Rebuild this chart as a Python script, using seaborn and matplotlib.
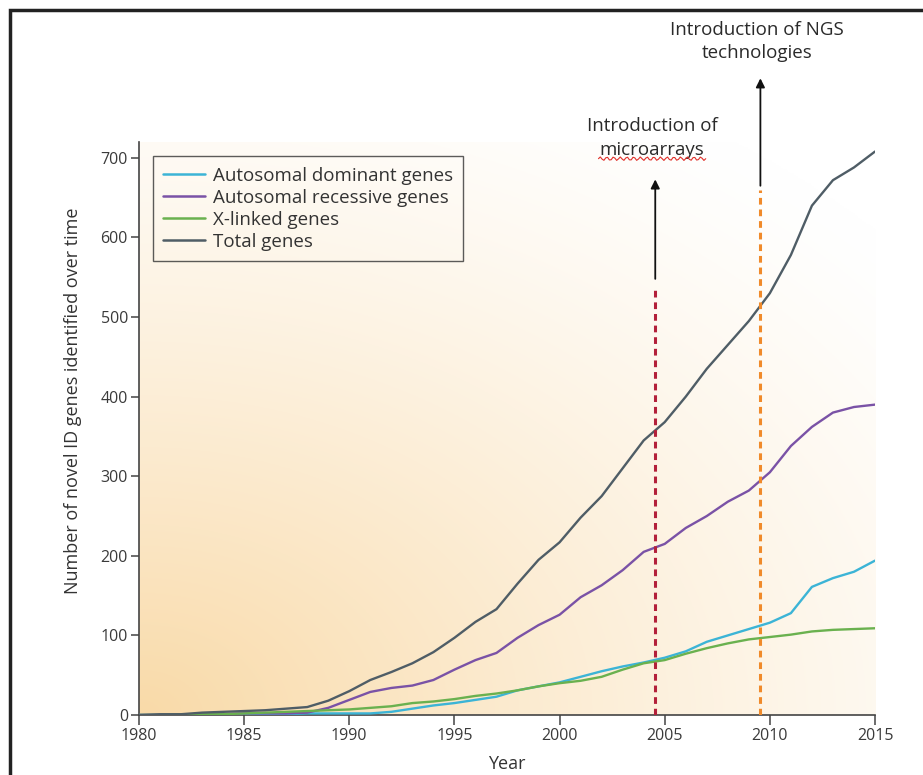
import numpy as np
import pandas as pd
import matplotlib
matplotlib.use("Agg")
import matplotlib.pyplot as plt
import seaborn as sns
from matplotlib.patches import Rectangle

years = list(range(1980, 2016))

autosomal_dominant = [0, 0, 0, 0, 1, 1, 1, 1, 2, 2, 2, 2, 4, 8, 12, 15, 19, 23,
                      31, 36, 41, 48, 55, 61, 66, 72, 80, 92, 100, 108, 116, 128,
                      161, 172, 180, 194]
autosomal_recessive = [0, 0, 0, 1, 1, 2, 2, 2, 3, 9, 19, 29, 34, 37, 44, 57, 69, 78,
                       97, 113, 126, 148, 163, 182, 205, 215, 235, 250, 268, 282,
                       305, 338, 362, 380, 387, 390]
x_linked = [0, 0, 1, 1, 1, 2, 3, 4, 5, 6, 7, 9, 11, 15, 17, 20, 24, 27,
            31, 36, 40, 43, 48, 57, 65, 69, 77, 84, 90, 95, 98, 101, 105, 107,
            108, 109]
total_genes = [0, 1, 1, 3, 4, 5, 6, 8, 10, 18, 30, 44, 54, 65, 79, 97, 117, 133,
               165, 195, 217, 248, 275, 310, 345, 368, 400, 435, 465, 495, 530,
               578, 640, 672, 688, 708]

series_names = ["Autosomal dominant genes", "Autosomal recessive genes",
                "X-linked genes", "Total genes"]
series_colors = ["#3cb4d6", "#7a52a6", "#6ab14f", "#4f5d66"]

x_ticks = [1980, 1985, 1990, 1995, 2000, 2005, 2010, 2015]
y_ticks = [0, 100, 200, 300, 400, 500, 600, 700]

microarray_year = 2004.55
ngs_year = 2009.55

df = pd.concat([
    pd.DataFrame({"Year": years, "Genes": vals, "Series": name})
    for name, vals in zip(series_names,
                          [autosomal_dominant, autosomal_recessive, x_linked, total_genes])
], ignore_index=True)

sns.set_theme(style="white")
plt.rcParams["font.family"] = ["Open Sans", "DejaVu Sans"]

fig = plt.figure(figsize=(9.23, 7.75), dpi=100)
ax = fig.add_axes([0.1506, 0.0774, 0.7974, 0.7394])
ax.set_xlim(1980, 2015)
ax.set_ylim(0, 720)

# background gradient (peach at bottom-left fading to white at top-right)
gx, gy = np.meshgrid(np.linspace(0, 1, 400), np.linspace(0, 1, 400))
d = np.sqrt((gx * 0.95) ** 2 + (gy * 1.05) ** 2)
t = np.clip(d / 1.3, 0, 1)
w = (1 - t) ** 1.3
orange = np.array([249, 218, 168]) / 255.0
white = np.array([1.0, 1.0, 1.0])
img = white[None, None, :] * (1 - w[..., None]) + orange[None, None, :] * w[..., None]
ax.imshow(img, extent=[1980, 2015, 0, 720], origin="lower", aspect="auto", zorder=0)

sns.lineplot(data=df, x="Year", y="Genes", hue="Series", hue_order=series_names,
             palette=series_colors, linewidth=1.7, ax=ax, zorder=3)

# vertical dashed markers
ax.vlines(microarray_year, 0, 534, colors="#b3203a", linestyles=(0, (2.2, 1.6)),
          linewidth=2.2, zorder=4)
ax.vlines(ngs_year, 0, 660, colors="#f08a2a", linestyles=(0, (2.2, 1.6)),
          linewidth=2.2, zorder=4)

ax.annotate("", xy=(microarray_year, 673), xytext=(microarray_year, 548),
            arrowprops=dict(arrowstyle="-|>", color="#111111", lw=1.3,
                            mutation_scale=13, shrinkA=0, shrinkB=0),
            annotation_clip=False)
ax.annotate("", xy=(ngs_year, 800), xytext=(ngs_year, 665),
            arrowprops=dict(arrowstyle="-|>", color="#111111", lw=1.3,
                            mutation_scale=13, shrinkA=0, shrinkB=0),
            annotation_clip=False)

ax.text(2004.4, 725, "Introduction of\nmicroarrays", ha="center", va="center",
        fontsize=13.5, color="#2a2a2a", linespacing=1.4, clip_on=False)
ax.text(2009.4, 846, "Introduction of NGS\ntechnologies", ha="center", va="center",
        fontsize=13.5, color="#2a2a2a", linespacing=1.4, clip_on=False)

# spell-check squiggle under "microarrays"
sq_x = np.linspace(2001.85, 2006.95, 60)
sq_y = 699 + 2.2 * np.sin(np.linspace(0, 2 * np.pi * 16, 60))
ax.plot(sq_x, sq_y, color="#e0302a", lw=0.8, clip_on=False, zorder=5)

ax.set_xticks(x_ticks)
ax.set_yticks(y_ticks)
ax.set_xticklabels([str(v) for v in x_ticks])
ax.set_yticklabels([str(v) for v in y_ticks])
ax.tick_params(axis="both", which="major", direction="out", length=6, width=1.1,
               color="#444444", labelsize=11.5, labelcolor="#3a3a3a", pad=2,
               bottom=True, left=True)
ax.tick_params(axis="x", length=7)

for side in ["top", "right"]:
    ax.spines[side].set_visible(False)
for side in ["left", "bottom"]:
    ax.spines[side].set_color("#444444")
    ax.spines[side].set_linewidth(1.2)

ax.set_xlabel("Year", fontsize=13, color="#333333", labelpad=8)
ax.set_ylabel("Number of novel ID genes identified over time", fontsize=13,
              color="#333333")
ax.yaxis.set_label_coords(-0.078, 0.548)

leg = ax.legend(loc="upper left", bbox_to_anchor=(0.019, 0.975), fontsize=13.5,
                frameon=True, fancybox=False, handlelength=2.2, handletextpad=0.45,
                labelspacing=0.22, borderpad=0.55, borderaxespad=0, title=None)
leg.get_frame().set_edgecolor("#333333")
leg.get_frame().set_linewidth(1.0)
leg.get_frame().set_facecolor("none")
for line in leg.get_lines():
    line.set_linewidth(1.8)
for txt in leg.get_texts():
    txt.set_color("#333333")

# outer frame of the figure
fig.patches.append(Rectangle((10 / 923, -0.1), 1.2, 1.1 - 10 / 775,
                             transform=fig.transFigure, fill=False,
                             edgecolor="#222222", linewidth=2.5))

fig.savefig("out.png", dpi=100)
